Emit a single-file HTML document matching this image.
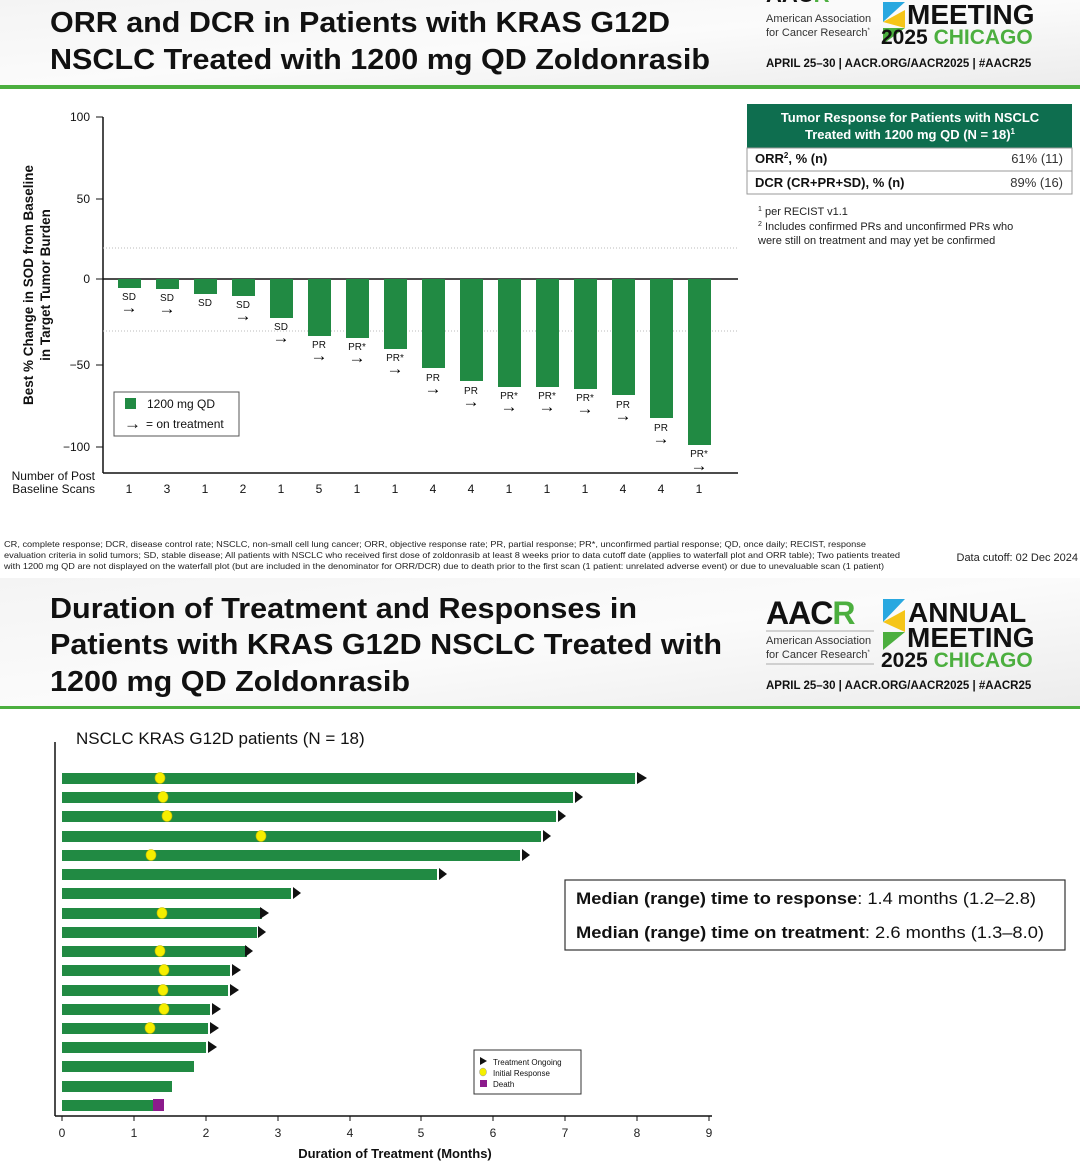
<!DOCTYPE html>
<html><head><meta charset="utf-8"><style>
body{margin:0;background:#fff;}
svg{display:block;font-family:"Liberation Sans",sans-serif;}
</style></head><body>
<svg width="1080" height="1168" viewBox="0 0 1080 1168" xmlns="http://www.w3.org/2000/svg">
<defs><linearGradient id="hg" x1="0" y1="0" x2="1" y2="1"><stop offset="0" stop-color="#f4f4f4"/><stop offset="0.5" stop-color="#fbfbfb"/><stop offset="1" stop-color="#ececec"/></linearGradient></defs>
<!-- header 1 -->
<rect x="0" y="0" width="1080" height="86" fill="url(#hg)"/>
<rect x="0" y="85" width="1080" height="4" fill="#4caf3f"/>
<text x="50" y="32" font-size="29" font-weight="bold" fill="#111" textLength="620" lengthAdjust="spacingAndGlyphs">ORR and DCR in Patients with KRAS G12D</text>
<text x="50" y="69" font-size="29" font-weight="bold" fill="#111" textLength="660" lengthAdjust="spacingAndGlyphs">NSCLC Treated with 1200 mg QD Zoldonrasib</text>
<g>
<text x="766" y="2" font-size="22" font-weight="bold" fill="#111">AAC<tspan fill="#4caf3f">R</tspan></text>
<text x="766" y="22" font-size="11" fill="#333">American Association</text>
<text x="766" y="36" font-size="11" fill="#333">for Cancer Research<tspan font-size="6" dy="-4">*</tspan></text>
<polygon points="883,2 905,2 883,22" fill="#29a8e0"/><polygon points="883,22 905,10 905,28" fill="#f5c518"/><polygon points="883,28 905,28 883,44" fill="#4caf3f"/>
<text x="907" y="24" font-size="28" font-weight="bold" fill="#111">MEETING</text>
<text x="881" y="44" font-size="21" font-weight="bold" fill="#111">2025 <tspan fill="#4caf3f">CHICAGO</tspan></text>
<text x="766" y="67" font-size="11.5" font-weight="bold" fill="#111">APRIL 25–30 | AACR.ORG/AACR2025 | #AACR25</text>
</g>
<!-- waterfall -->
<g font-size="12" fill="#111">
<line x1="103" y1="117" x2="103" y2="473" stroke="#111" stroke-width="1.5"/>
<line x1="103" y1="473" x2="738" y2="473" stroke="#111" stroke-width="1.5"/>
<line x1="103" y1="279" x2="738" y2="279" stroke="#111" stroke-width="1.5"/>
<line x1="103" y1="248" x2="738" y2="248" stroke="#bbb" stroke-dasharray="1,2"/>
<line x1="103" y1="331" x2="738" y2="331" stroke="#bbb" stroke-dasharray="1,2"/>
<g stroke="#111"><line x1="96" y1="117" x2="103" y2="117"/><line x1="96" y1="199" x2="103" y2="199"/><line x1="96" y1="279" x2="103" y2="279"/><line x1="96" y1="365" x2="103" y2="365"/><line x1="96" y1="447" x2="103" y2="447"/></g>
<g text-anchor="end"><text x="90" y="121">100</text><text x="90" y="203">50</text><text x="90" y="283">0</text><text x="90" y="369">−50</text><text x="90" y="451">−100</text></g>
<text transform="translate(33,285) rotate(-90)" text-anchor="middle" font-size="13.5" font-weight="bold">Best % Change in SOD from Baseline</text>
<text transform="translate(50,285) rotate(-90)" text-anchor="middle" font-size="13.5" font-weight="bold">in Target Tumor Burden</text>
<g fill="#218a43">
<rect x="118" y="279" width="23" height="9"/><rect x="156" y="279" width="23" height="10"/><rect x="194" y="279" width="23" height="15"/><rect x="232" y="279" width="23" height="17"/><rect x="270" y="279" width="23" height="39"/><rect x="308" y="279" width="23" height="57"/><rect x="346" y="279" width="23" height="59"/><rect x="384" y="279" width="23" height="70"/><rect x="422" y="279" width="23" height="89"/><rect x="460" y="279" width="23" height="102"/><rect x="498" y="279" width="23" height="108"/><rect x="536" y="279" width="23" height="108"/><rect x="574" y="279" width="23" height="110"/><rect x="612" y="279" width="23" height="116"/><rect x="650" y="279" width="23" height="139"/><rect x="688" y="279" width="23" height="166"/>
</g>
<g font-size="10" text-anchor="middle">
<text x="129" y="300">SD</text><text x="167" y="301">SD</text><text x="205" y="306">SD</text><text x="243" y="308">SD</text><text x="281" y="330">SD</text><text x="319" y="348">PR</text><text x="357" y="350">PR*</text><text x="395" y="361">PR*</text><text x="433" y="381">PR</text><text x="471" y="394">PR</text><text x="509" y="399">PR*</text><text x="547" y="399">PR*</text><text x="585" y="401">PR*</text><text x="623" y="408">PR</text><text x="661" y="431">PR</text><text x="699" y="457">PR*</text>
</g>
<g font-size="17" text-anchor="middle" font-weight="bold" fill="#000">
<text x="129" y="313">→</text><text x="167" y="314">→</text><text x="243" y="321">→</text><text x="281" y="343">→</text><text x="319" y="361">→</text><text x="357" y="363">→</text><text x="395" y="374">→</text><text x="433" y="394">→</text><text x="471" y="407">→</text><text x="509" y="412">→</text><text x="547" y="412">→</text><text x="585" y="414">→</text><text x="623" y="421">→</text><text x="661" y="444">→</text><text x="699" y="471">→</text>
</g>
<rect x="114" y="392" width="125" height="44" fill="#fff" stroke="#555"/>
<rect x="125" y="398" width="11" height="11" fill="#218a43"/>
<text x="147" y="408">1200 mg QD</text>
<text x="124" y="429" font-weight="bold" font-size="17">→</text><text x="146" y="428">= on treatment</text>
<text x="95" y="480" text-anchor="end">Number of Post</text>
<text x="95" y="493" text-anchor="end">Baseline Scans</text>
<g text-anchor="middle"><text x="129" y="493">1</text><text x="167" y="493">3</text><text x="205" y="493">1</text><text x="243" y="493">2</text><text x="281" y="493">1</text><text x="319" y="493">5</text><text x="357" y="493">1</text><text x="395" y="493">1</text><text x="433" y="493">4</text><text x="471" y="493">4</text><text x="509" y="493">1</text><text x="547" y="493">1</text><text x="585" y="493">1</text><text x="623" y="493">4</text><text x="661" y="493">4</text><text x="699" y="493">1</text></g>
</g>
<!-- table -->
<rect x="747" y="104" width="325" height="44" fill="#0e6e4f"/>
<text x="910" y="122" fill="#fff" font-size="13" font-weight="bold" text-anchor="middle">Tumor Response for Patients with NSCLC</text>
<text x="910" y="139" fill="#fff" font-size="13" font-weight="bold" text-anchor="middle">Treated with 1200 mg QD (N = 18)<tspan font-size="8" dy="-5">1</tspan></text>
<rect x="747" y="148" width="325" height="46" fill="#fff" stroke="#999"/>
<line x1="747" y1="171" x2="1072" y2="171" stroke="#999"/>
<text x="755" y="163" font-size="13" font-weight="bold" fill="#111">ORR<tspan font-size="8" dy="-5">2</tspan><tspan dy="5">, % (n)</tspan></text>
<text x="1063" y="163" font-size="13" fill="#333" text-anchor="end">61% (11)</text>
<text x="755" y="187" font-size="13" font-weight="bold" fill="#111">DCR (CR+PR+SD), % (n)</text>
<text x="1063" y="187" font-size="13" fill="#333" text-anchor="end">89% (16)</text>
<g font-size="11" fill="#222"><text x="758" y="215"><tspan font-size="7" dy="-4">1</tspan><tspan dy="4"> per RECIST v1.1</tspan></text>
<text x="758" y="230"><tspan font-size="7" dy="-4">2</tspan><tspan dy="4"> Includes confirmed PRs and unconfirmed PRs who</tspan></text>
<text x="758" y="244">were still on treatment and may yet be confirmed</text></g>
<!-- footnote -->
<g font-size="8.5" fill="#222">
<text x="4" y="547" textLength="862" lengthAdjust="spacingAndGlyphs">CR, complete response; DCR, disease control rate; NSCLC, non-small cell lung cancer; ORR, objective response rate; PR, partial response; PR*, unconfirmed partial response; QD, once daily; RECIST, response</text>
<text x="4" y="558" textLength="896" lengthAdjust="spacingAndGlyphs">evaluation criteria in solid tumors; SD, stable disease; All patients with NSCLC who received first dose of zoldonrasib at least 8 weeks prior to data cutoff date (applies to waterfall plot and ORR table); Two patients treated</text>
<text x="4" y="569" textLength="880" lengthAdjust="spacingAndGlyphs">with 1200 mg QD are not displayed on the waterfall plot (but are included in the denominator for ORR/DCR) due to death prior to the first scan (1 patient: unrelated adverse event) or due to unevaluable scan (1 patient)</text>
</g>
<text x="1078" y="561" font-size="11" fill="#222" text-anchor="end">Data cutoff: 02 Dec 2024</text>
<!-- header 2 -->
<rect x="0" y="578" width="1080" height="129" fill="url(#hg)"/>
<rect x="0" y="706" width="1080" height="3" fill="#4caf3f"/>
<g font-size="29" font-weight="bold" fill="#111"><text x="50" y="618" textLength="587" lengthAdjust="spacingAndGlyphs">Duration of Treatment and Responses in</text><text x="50" y="654" textLength="672" lengthAdjust="spacingAndGlyphs">Patients with KRAS G12D NSCLC Treated with</text><text x="50" y="691" textLength="360" lengthAdjust="spacingAndGlyphs">1200 mg QD Zoldonrasib</text></g>
<g>
<text x="766" y="624" font-size="32" font-weight="bold" fill="#111" letter-spacing="-1">AAC<tspan fill="#4caf3f">R</tspan></text>
<line x1="766" y1="631" x2="874" y2="631" stroke="#aaa"/>
<text x="766" y="644" font-size="11" fill="#333">American Association</text>
<text x="766" y="658" font-size="11" fill="#333">for Cancer Research<tspan font-size="6" dy="-4">*</tspan></text>
<line x1="766" y1="664" x2="874" y2="664" stroke="#aaa"/>
<polygon points="883,599 905,599 883,622" fill="#29a8e0"/><polygon points="883,622 905,610 905,632" fill="#f5c518"/><polygon points="883,632 905,632 883,650" fill="#4caf3f"/>
<text x="908" y="622" font-size="28" font-weight="bold" fill="#111">ANNUAL</text>
<text x="907" y="647" font-size="28" font-weight="bold" fill="#111">MEETING</text>
<text x="881" y="667" font-size="21" font-weight="bold" fill="#111">2025 <tspan fill="#4caf3f">CHICAGO</tspan></text>
<text x="766" y="689" font-size="11.5" font-weight="bold" fill="#111">APRIL 25–30 | AACR.ORG/AACR2025 | #AACR25</text>
</g>
<!-- swimmer -->
<text x="76" y="744" font-size="17" fill="#111">NSCLC KRAS G12D patients (N = 18)</text>
<line x1="55" y1="742" x2="55" y2="1116" stroke="#111" stroke-width="1.5"/>
<line x1="55" y1="1116" x2="712" y2="1116" stroke="#111" stroke-width="1.5"/>
<g stroke="#111"><line x1="62" y1="1116" x2="62" y2="1121"/><line x1="134" y1="1116" x2="134" y2="1121"/><line x1="206" y1="1116" x2="206" y2="1121"/><line x1="278" y1="1116" x2="278" y2="1121"/><line x1="350" y1="1116" x2="350" y2="1121"/><line x1="421" y1="1116" x2="421" y2="1121"/><line x1="493" y1="1116" x2="493" y2="1121"/><line x1="565" y1="1116" x2="565" y2="1121"/><line x1="637" y1="1116" x2="637" y2="1121"/><line x1="709" y1="1116" x2="709" y2="1121"/></g>
<g font-size="12" fill="#222" text-anchor="middle"><text x="62" y="1137">0</text><text x="134" y="1137">1</text><text x="206" y="1137">2</text><text x="278" y="1137">3</text><text x="350" y="1137">4</text><text x="421" y="1137">5</text><text x="493" y="1137">6</text><text x="565" y="1137">7</text><text x="637" y="1137">8</text><text x="709" y="1137">9</text></g>
<text x="395" y="1158" font-size="13" font-weight="bold" fill="#111" text-anchor="middle">Duration of Treatment (Months)</text>
<g fill="#218a43">
<rect x="62" y="773" width="573" height="11"/><rect x="62" y="792" width="511" height="11"/><rect x="62" y="811" width="494" height="11"/><rect x="62" y="831" width="479" height="11"/><rect x="62" y="850" width="458" height="11"/><rect x="62" y="869" width="375" height="11"/><rect x="62" y="888" width="229" height="11"/><rect x="62" y="908" width="200" height="11"/><rect x="62" y="927" width="195" height="11"/><rect x="62" y="946" width="185" height="11"/><rect x="62" y="965" width="168" height="11"/><rect x="62" y="985" width="166" height="11"/><rect x="62" y="1004" width="148" height="11"/><rect x="62" y="1023" width="146" height="11"/><rect x="62" y="1042" width="144" height="11"/><rect x="62" y="1061" width="132" height="11"/><rect x="62" y="1081" width="110" height="11"/><rect x="62" y="1100" width="91" height="11"/>
</g>
<rect x="153" y="1099" width="11" height="12" fill="#8b1a8b"/>
<g fill="#111">
<polygon points="637,772 647,778 637,784"/><polygon points="575,791 583,797 575,803"/><polygon points="558,810 566,816 558,822"/><polygon points="543,830 551,836 543,842"/><polygon points="522,849 530,855 522,861"/><polygon points="439,868 447,874 439,880"/><polygon points="293,887 301,893 293,899"/><polygon points="260,907 269,913 260,919"/><polygon points="258,926 266,932 258,938"/><polygon points="245,945 253,951 245,957"/><polygon points="232,964 241,970 232,976"/><polygon points="230,984 239,990 230,996"/><polygon points="212,1003 221,1009 212,1015"/><polygon points="210,1022 219,1028 210,1034"/><polygon points="208,1041 217,1047 208,1053"/>
</g>
<g fill="#f5ef00" stroke="#c9b800" stroke-width="0.6">
<ellipse cx="160" cy="778" rx="5" ry="5.5"/><ellipse cx="163" cy="797" rx="5" ry="5.5"/><ellipse cx="167" cy="816" rx="5" ry="5.5"/><ellipse cx="261" cy="836" rx="5" ry="5.5"/><ellipse cx="151" cy="855" rx="5" ry="5.5"/><ellipse cx="162" cy="913" rx="5" ry="5.5"/><ellipse cx="160" cy="951" rx="5" ry="5.5"/><ellipse cx="164" cy="970" rx="5" ry="5.5"/><ellipse cx="163" cy="990" rx="5" ry="5.5"/><ellipse cx="164" cy="1009" rx="5" ry="5.5"/><ellipse cx="150" cy="1028" rx="5" ry="5.5"/>
</g>
<rect x="565" y="880" width="500" height="70" fill="#fff" stroke="#333" stroke-width="1.2"/>
<text x="576" y="904" font-size="17" fill="#111" textLength="460" lengthAdjust="spacingAndGlyphs"><tspan font-weight="bold">Median (range) time to response</tspan>: 1.4 months (1.2–2.8)</text>
<text x="576" y="938" font-size="17" fill="#111" textLength="468" lengthAdjust="spacingAndGlyphs"><tspan font-weight="bold">Median (range) time on treatment</tspan>: 2.6 months (1.3–8.0)</text>
<rect x="474" y="1050" width="107" height="44" fill="#fff" stroke="#333"/>
<polygon points="480,1057 487,1061 480,1065" fill="#111"/><text x="493" y="1065" font-size="8" fill="#111">Treatment Ongoing</text>
<ellipse cx="483" cy="1072" rx="3.5" ry="4" fill="#f5ef00" stroke="#999" stroke-width="0.5"/><text x="493" y="1076" font-size="8" fill="#111">Initial Response</text>
<rect x="480" y="1080" width="7" height="7" fill="#8b1a8b"/><text x="493" y="1087" font-size="8" fill="#111">Death</text>
</svg>
</body></html>
